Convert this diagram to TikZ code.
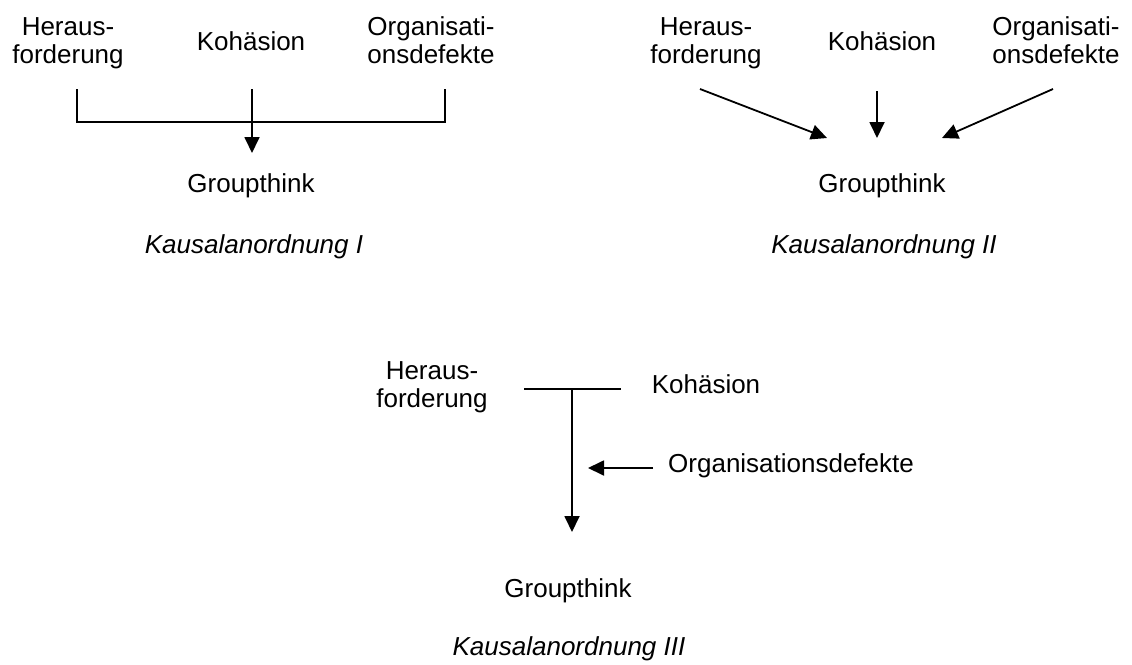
\documentclass[tikz,border=0pt]{standalone}
\usepackage{fontspec}
\setmainfont{Liberation Sans}
\usetikzlibrary{arrows.meta}
\begin{document}
\begin{tikzpicture}[x=1pt,y=-1pt,
  lbl/.style={inner sep=0pt,anchor=base,align=center,font=\fontsize{26}{28}\selectfont},
  captiontext/.style={lbl,font=\fontsize{26}{28}\selectfont\itshape},
  ln/.style={line width=1.8pt},
  arr/.style={ln,-{Triangle[length=16pt,width=15pt]}}]
\useasboundingbox (0,0) rectangle (1132,664);
% ---------- Kausalanordnung I ----------
\node[lbl] (h1) at (68,63) {Heraus-\\forderung};
\node[lbl] (k1) at (251,50) {Kohäsion};
\node[lbl] (o1) at (431,63) {Organisati-\\onsdefekte};
\node[lbl] (g1) at (251,192) {Groupthink};
\node[captiontext] (c1) at (254,253) {Kausalanordnung I};
\coordinate (h1s) at (77,89);
\coordinate (k1s) at (252,89);
\coordinate (o1s) at (445,89);
\coordinate (j1) at (252,122);
\coordinate (t1) at (252,153);
\draw[ln] (h1s) |- (j1) -| (o1s);
\draw[arr] (k1s) -- (t1);
% ---------- Kausalanordnung II ----------
\node[lbl] (h2) at (706,63) {Heraus-\\forderung};
\node[lbl] (k2) at (882,50) {Kohäsion};
\node[lbl] (o2) at (1056,63) {Organisati-\\onsdefekte};
\node[lbl] (g2) at (882,192) {Groupthink};
\node[captiontext] (c2) at (884,253) {Kausalanordnung II};
\coordinate (h2s) at (700,89);
\coordinate (h2t) at (827,138);
\coordinate (k2s) at (877,91);
\coordinate (k2t) at (877,138);
\coordinate (o2s) at (1053,89);
\coordinate (o2t) at (942,138);
\draw[arr] (h2s) -- (h2t);
\draw[arr] (k2s) -- (k2t);
\draw[arr] (o2s) -- (o2t);
% ---------- Kausalanordnung III ----------
\node[lbl] (h3) at (432,407) {Heraus-\\forderung};
\node[lbl] (k3) at (706,393) {Kohäsion};
\node[lbl,anchor=base west] (o3) at (668,472) {Organisationsdefekte};
\node[lbl] (g3) at (568,597) {Groupthink};
\node[captiontext] (c3) at (569,655) {Kausalanordnung III};
\coordinate (b3l) at (524,389);
\coordinate (b3r) at (621,389);
\coordinate (b3m) at (572,389);
\coordinate (t3) at (572,532);
\coordinate (o3s) at (653,468);
\coordinate (o3t) at (588,468);
\draw[ln] (b3l) -- (b3r);
\draw[arr] (b3m) -- (t3);
\draw[arr] (o3s) -- (o3t);
\end{tikzpicture}
\end{document}
